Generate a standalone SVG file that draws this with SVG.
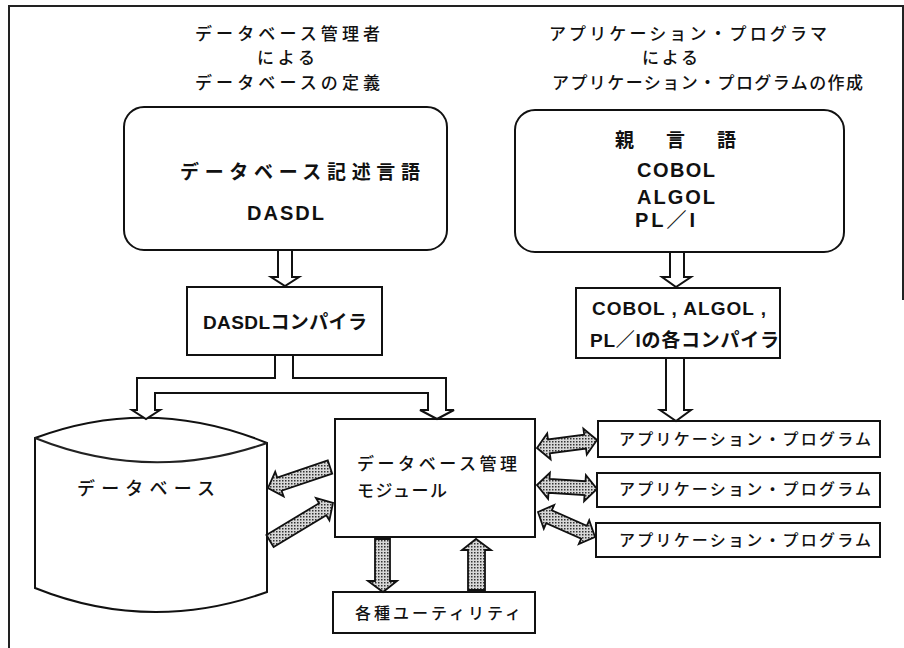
<svg xmlns="http://www.w3.org/2000/svg" width="904" height="648" viewBox="0 0 904 648">
<defs>
<pattern id="dots" width="3" height="3" patternUnits="userSpaceOnUse"><rect width="3" height="3" fill="#d8d8d8"/><rect width="1.5" height="1.5" fill="#333"/></pattern>
</defs>
<style>
.box{fill:#fff;stroke:#111;stroke-width:2}
.hol{fill:#fff;stroke:#111;stroke-width:2;stroke-linejoin:miter}
.sh{fill:url(#dots);stroke:#111;stroke-width:1.8;stroke-linejoin:miter}
.frame{fill:none;stroke:#222;stroke-width:2}
.t{font-family:"Noto Sans CJK JP",sans-serif;fill:#111}
.tt{font-size:17px;font-weight:500}
.tb{font-family:"Liberation Sans","Noto Sans CJK JP",sans-serif;font-weight:bold;fill:#111}
.bx{font-size:19px;font-weight:bold}
.ap{font-size:16px;font-weight:500}
</style>
<rect width="904" height="648" fill="#fff"/>
<g id="frame">
<path class="frame" d="M9,648 V6 H903 V300"/>
</g>
<g id="title-left">
<text class="t tt" x="195" y="39.5" textLength="185" lengthAdjust="spacing">データベース管理者</text>
<text class="t tt" x="257" y="64" textLength="58" lengthAdjust="spacing">による</text>
<text class="t tt" x="195" y="89" textLength="185" lengthAdjust="spacing">データベースの定義</text>
</g>
<g id="title-right">
<text class="t tt" x="549" y="39.5" textLength="278" lengthAdjust="spacing">アプリケーション・プログラマ</text>
<text class="t tt" x="642" y="64" textLength="56" lengthAdjust="spacing">による</text>
<text class="t tt" x="552" y="89" textLength="311" lengthAdjust="spacing">アプリケーション・プログラムの作成</text>
</g>
<g id="dasdl-lang">
<rect class="box" x="124" y="107" width="323" height="143" rx="20"/>
<text class="t bx" x="180" y="178.7" textLength="240" lengthAdjust="spacing">データベース記述言語</text>
<text class="tb" font-size="20" x="247" y="220" textLength="77" lengthAdjust="spacing">DASDL</text>
</g>
<g id="host-lang">
<rect class="box" x="515" y="110" width="329" height="142" rx="20"/>
<text class="t bx" x="615" y="147" textLength="121" lengthAdjust="spacing">親　言　語</text>
<text class="tb" font-size="20" x="637" y="177" textLength="78" lengthAdjust="spacing">COBOL</text>
<text class="tb" font-size="20" x="637" y="204" textLength="78" lengthAdjust="spacing">ALGOL</text>
<text class="tb" font-size="20" x="635" y="227" textLength="60" lengthAdjust="spacing">PL／I</text>
</g>
<g id="dasdl-compiler">
<rect class="box" x="187" y="287" width="195" height="68"/>
<text class="tb" font-size="19" x="203" y="329" textLength="164" lengthAdjust="spacing">DASDLコンパイラ</text>
</g>
<g id="host-compilers">
<rect class="box" x="576" y="288" width="204" height="70"/>
<text class="tb" font-size="19" x="592" y="315" textLength="174" lengthAdjust="spacing">COBOL , ALGOL ,</text>
<text class="tb" font-size="19" x="590" y="347" textLength="189" lengthAdjust="spacing">PL／Iの各コンパイラ</text>
</g>
<g id="database">
<path class="box" d="M35,438 Q150,395 267,443 L267,592 Q150,634 35,588 Z"/>
<path class="frame" d="M35,438 Q150,484 267,443"/>
<text class="t" font-size="18" font-weight="500" x="77" y="495" textLength="138" lengthAdjust="spacing">データベース</text>
</g>
<g id="dbms-module">
<rect class="box" x="335" y="419" width="200" height="118"/>
<text class="t" font-size="17" font-weight="500" x="357" y="469.5" textLength="160" lengthAdjust="spacing">データベース管理</text>
<text class="t" font-size="17" font-weight="500" x="357" y="496.5" textLength="90" lengthAdjust="spacing">モジュール</text>
</g>
<g id="app1">
<rect class="box" x="598" y="421" width="282" height="36"/>
<text class="t ap" x="619" y="445" textLength="252" lengthAdjust="spacing">アプリケーション・プログラム</text>
</g>
<g id="app2">
<rect class="box" x="597" y="473" width="283" height="34"/>
<text class="t ap" x="619" y="495" textLength="252" lengthAdjust="spacing">アプリケーション・プログラム</text>
</g>
<g id="app3">
<rect class="box" x="596" y="523" width="284" height="34"/>
<text class="t ap" x="619" y="546" textLength="252" lengthAdjust="spacing">アプリケーション・プログラム</text>
</g>
<g id="utilities">
<rect class="box" x="333" y="592" width="202" height="41"/>
<text class="t ap" x="355" y="619" textLength="166" lengthAdjust="spacing">各種ユーティリティ</text>
</g>
<g id="connectors">
<path class="hol" d="M278,251 V277 H271 L285,286 L299,277 H292 V251"/>
<path class="hol" d="M670,253 V277 H662 L676,287 L691,277 H684 V253"/>
<path class="hol" d="M666,359 V410 H660 L676,421 L691,410 H684 V359"/>
<path class="hol" d="M275,356 V378 H137 V410 H132 L146,419 L160,410 H155 V393 H428 V410 H420 L437,419 L454,410 H446 V378 H293 V356"/>
<polygon class="sh" points="327.8,460.4 277.2,477.5 275.2,471.8 268,488 283.6,496.4 281.6,490.7 332.2,473.6"/>
<polygon class="sh" points="266.4,535 319.1,503.2 316,498.1 333,503 329.4,520.3 326.3,515.2 273.6,547"/>
<polygon class="sh" points="537,448 547.2,433.5 548,439.5 584.2,434.7 583.4,428.7 597,440 586.8,454.5 586,448.5 549.8,453.3 550.6,459.3"/>
<polygon class="sh" points="537,485 549.9,472.8 549.5,478.8 585.5,481.2 585.9,475.2 597,489 584.1,501.2 584.5,495.2 548.5,492.8 548.1,498.8"/>
<polygon class="sh" points="538,512 554.2,504.9 551.8,510.4 586.8,525.8 589.2,520.3 595,537 578.8,544.1 581.2,538.6 546.2,523.2 543.8,528.7"/>
<polygon class="sh" points="375,539 390,539 390,581 397,581 383,592 368,581 375,581"/>
<polygon class="sh" points="468,590 485,590 485,550 491,550 476,539 462,550 468,550"/>
</g>
</svg>
